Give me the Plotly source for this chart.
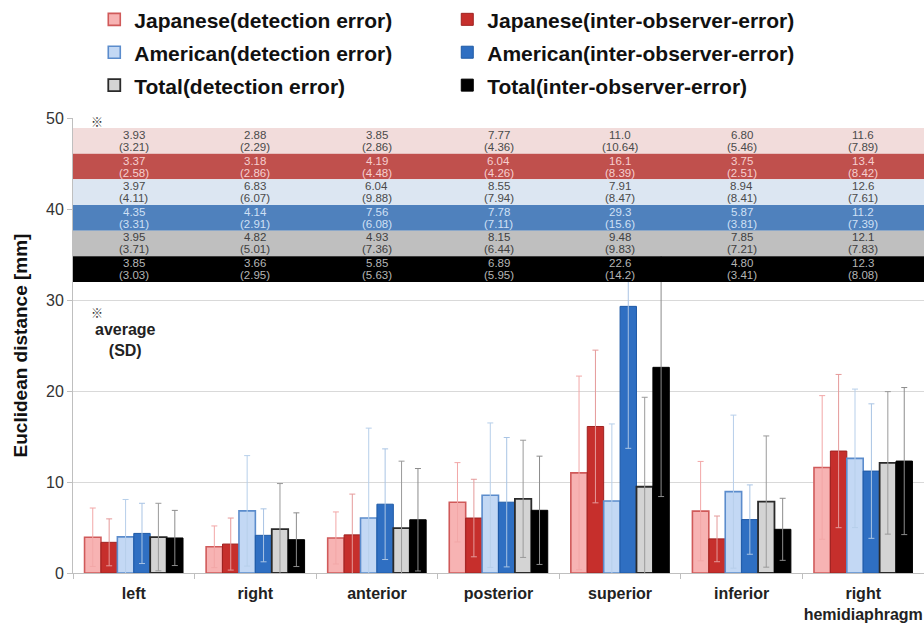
import plotly.graph_objects as go

categories = ["left", "right", "anterior", "posterior", "superior", "inferior", "right<br>hemidiaphragm"]

series_names = [
    "Japanese(detection error)", "Japanese(inter-observer-error)",
    "American(detection error)", "American(inter-observer-error)",
    "Total(detection error)", "Total(inter-observer-error)",
]

jp_det_mean = [3.93, 2.88, 3.85, 7.77, 11.0, 6.80, 11.6]
jp_det_sd = ["3.21", "2.29", "2.86", "4.36", "10.64", "5.46", "7.89"]
jp_int_mean = [3.37, 3.18, 4.19, 6.04, 16.1, 3.75, 13.4]
jp_int_sd = ["2.58", "2.86", "4.48", "4.26", "8.39", "2.51", "8.42"]
am_det_mean = [3.97, 6.83, 6.04, 8.55, 7.91, 8.94, 12.6]
am_det_sd = ["4.11", "6.07", "9.88", "7.94", "8.47", "8.41", "7.61"]
am_int_mean = [4.35, 4.14, 7.56, 7.78, 29.3, 5.87, 11.2]
am_int_sd = ["3.31", "2.91", "6.08", "7.11", "15.6", "3.81", "7.39"]
tot_det_mean = [3.95, 4.82, 4.93, 8.15, 9.48, 7.85, 12.1]
tot_det_sd = ["3.71", "5.01", "7.36", "6.44", "9.83", "7.21", "7.83"]
tot_int_mean = [3.85, 3.66, 5.85, 6.89, 22.6, 4.80, 12.3]
tot_int_sd = ["3.03", "2.95", "5.63", "5.95", "14.2", "3.41", "8.08"]

y_ticks = [0, 10, 20, 30, 40, 50]

means = [jp_det_mean, jp_int_mean, am_det_mean, am_int_mean, tot_det_mean, tot_int_mean]
sds = [jp_det_sd, jp_int_sd, am_det_sd, am_int_sd, tot_det_sd, tot_int_sd]

# styles
fill_colors = ["#f7b3b3", "#c62f2c", "#c3d8f4", "#2f6fc2", "#d4d4d4", "#000000"]
line_colors = ["#d05a5a", "#9e2220", "#5b8ccc", "#1f5aa6", "#2a2a2a", "#000000"]
line_widths = [1.6, 1.0, 1.6, 1.0, 1.8, 1.0]
err_colors = ["#f2a7a7", "#e59a9a", "#b7cfea", "#a9c4e4", "#9a9a9a", "#8c8c8c"]
band_colors = ["#f2dcdb", "#c0504d", "#dce6f2", "#4f81bd", "#bfbfbf", "#000000"]
band_text_colors = ["#4a4a4a", "#f6cfcf", "#4a4a4a", "#cfe0f5", "#404040", "#b5b5b5"]

FONT = "Liberation Sans"

fig = go.Figure()
for i in range(6):
    fig.add_trace(go.Bar(
        name=f"<span style='font-size:21px'>{series_names[i]}</span>",
        x=categories,
        y=means[i],
        marker=dict(color=fill_colors[i], line=dict(color=line_colors[i], width=line_widths[i])),
        error_y=dict(type="data", array=[float(s) for s in sds[i]], color=err_colors[i],
                     thickness=1, width=3),
    ))

# table overlay
table_top = 48.9
row_h = 2.82
shapes = []
annotations = []
for i in range(6):
    y1 = table_top - i * row_h
    y0 = y1 - row_h
    shapes.append(dict(type="rect", xref="x domain", yref="y", x0=0, x1=1, y0=y0, y1=y1,
                       fillcolor=band_colors[i], line=dict(width=0), layer="above"))
    yc = (y0 + y1) / 2
    for j, cat in enumerate(categories):
        annotations.append(dict(x=cat, y=yc, xref="x", yref="y", text=f"{means[i][j]:#.3g}",
                                showarrow=False, yshift=6,
                                font=dict(family=FONT, size=11.5, color=band_text_colors[i])))
        annotations.append(dict(x=cat, y=yc, xref="x", yref="y", text=f"({sds[i][j]})",
                                showarrow=False, yshift=-6,
                                font=dict(family=FONT, size=11.5, color=band_text_colors[i])))

annotations.append(dict(xref="paper", yref="paper", x=0.028, y=0.993, text="※", showarrow=False,
                        xanchor="center", yanchor="middle", font=dict(family="Noto Sans CJK JP", size=12, color="#333")))
annotations.append(dict(xref="paper", yref="paper", x=0.028, y=0.572, text="※", showarrow=False,
                        xanchor="center", yanchor="middle", font=dict(family="Noto Sans CJK JP", size=12, color="#333")))
annotations.append(dict(xref="paper", yref="paper", x=0.062, y=0.512,
                        text="<b>average</b><br><b>(SD)</b>", showarrow=False,
                        xanchor="center", yanchor="middle",
                        font=dict(family=FONT, size=16, color="#222")))

fig.update_layout(
    width=924, height=624,
    margin=dict(l=73, r=0, t=118, b=51, autoexpand=False),
    plot_bgcolor="white", paper_bgcolor="white",
    barmode="group", bargap=0.19, bargroupgap=0,
    font=dict(family=FONT, color="#333"),
    legend=dict(orientation="h", x=0.025, y=1.264, xanchor="left", yanchor="top",
                entrywidth=308, entrywidthmode="pixels",
                font=dict(family=FONT, size=23, color="#111", weight="bold"),
                traceorder="normal"),
    shapes=shapes,
    annotations=annotations,
    showlegend=True,
)
fig.update_xaxes(range=[-0.5, 6.5], showline=True, linecolor="#bfbfbf", linewidth=1,
                 ticks="outside", tickson="boundaries", ticklen=5, tickcolor="#bfbfbf",
                 ticklabelstandoff=6, automargin=False, tickangle=0,
                 tickfont=dict(family=FONT, size=16, color="#222", weight="bold"), showgrid=False)
fig.update_yaxes(range=[0, 50], tickvals=y_ticks, showline=True, linecolor="#bfbfbf", linewidth=1,
                 ticks="outside", ticklen=5, tickcolor="#bfbfbf", automargin=False,
                 gridcolor="#d9d9d9", gridwidth=1, zeroline=False,
                 tickfont=dict(family=FONT, size=16, color="#333"),
                 title=dict(text="Euclidean distance [mm]", standoff=13,
                            font=dict(family=FONT, size=19, color="#111", weight="bold")))

fig.write_html("out.html", config={"displayModeBar": False},
               post_script="document.body.style.margin='0px';")
